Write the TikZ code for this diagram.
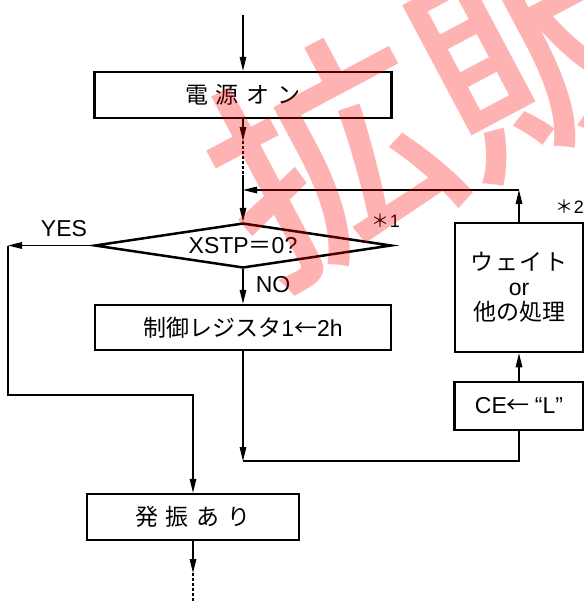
\documentclass[tikz,border=0pt]{standalone}
\usepackage{fontspec}
\setmainfont{Liberation Sans}
\newfontfamily\jp{Noto Sans CJK JP}
\IfFontExistsTF{Noto Sans CJK JP Medium}
  {\newfontfamily\wmfont{Noto Sans CJK JP Medium}}
  {\newfontfamily\wmfont{Noto Sans CJK JP}}
\usetikzlibrary{arrows.meta,shapes.geometric}
\newcommand\J[1]{{\jp #1}}
\tikzset{
  conn/.style={line width=1.3pt},
  arr/.style={conn,-{Triangle[length=14pt,width=6.5pt]}},
  dotline/.style={line width=1.3pt,dash pattern=on 2.5pt off 2.5pt},
  procbox/.style={draw,line width=2.5pt,rectangle,inner sep=0pt,align=center,
    font=\fontsize{23}{25}\selectfont},
  lbl/.style={inner sep=0pt,font=\fontsize{23}{25}\selectfont},
  smalllbl/.style={inner sep=0pt,font=\fontsize{18}{20}\selectfont},
}
\begin{document}
\begin{tikzpicture}[x=1pt,y=-1pt]
\useasboundingbox (0,0) rectangle (584,603);
% boxes
\node[procbox,minimum width=297pt,minimum height=46pt] (pwr) at (243,95)
  {\J{電}\hspace{8pt}\J{源}\hspace{8pt}\J{オ}\hspace{8pt}\J{ン}};
\node[draw,line width=2.5pt,diamond,inner sep=0pt,minimum width=297pt,minimum height=45pt] (dia) at (243,245.5) {};
\node[lbl] (diatxt) at (243,246) {XSTP\J{＝}0?};
\node[procbox,minimum width=296pt,minimum height=45pt] (seigyo) at (243,327.5)
  {\J{制御レジスタ}1\J{←}2h};
\node[procbox,minimum width=212pt,minimum height=46pt] (hassh) at (193,517)
  {\J{発}\hspace{8pt}\J{振}\hspace{8pt}\J{あ}\hspace{8pt}\J{り}};
\node[procbox,minimum width=128pt,minimum height=129pt] (wait) at (519,287.5)
  {\J{ウ\hspace{1.5pt}ェ\hspace{1.5pt}イ\hspace{1.5pt}ト}\\or\\\J{他の処理}};
\node[procbox,minimum width=129pt,minimum height=48pt] (ce) at (519,406)
  {CE\J{←}\hspace{5pt}“L”};
% labels
\node[lbl] (yes) at (64,229) {YES};
\node[lbl] (no) at (273,285) {NO};
\node[smalllbl] (n1) at (386,221) {\J{＊}1};
\node[smalllbl] (n2) at (570,207) {\J{＊}2};
% coordinates
\coordinate (top) at (243,15);
\coordinate (d1) at (243,141);
\coordinate (d2) at (243,175);
\coordinate (fb) at (243,190);
\coordinate (wc) at (519,190);
\coordinate (yc) at (8,245.5);
\coordinate (yb) at (193,395);
\coordinate (nc) at (243,461);
\coordinate (h1) at (193,573);
\coordinate (h2) at (193,603);
% connectors
\draw[arr] (top) -- (pwr.north);
\draw[arr] (pwr.south) -- (d1);
\draw[dotline] (d1) -- (d2);
\draw[arr] (d2) -- (dia.north);
\draw[arr] (wait.north) -- (wc);
\draw[arr] (wc) -- (fb);
\draw[arr] (dia.west) -- (yc);
\draw[arr] (yc) |- (yb) -- (hassh.north);
\draw[arr] (dia.south) -- (seigyo.north);
\draw[arr] (seigyo.south) -- (nc);
\draw[conn] (nc) -| (ce.south);
\draw[arr] (ce.north) -- (wait.south);
\draw[arr] (hassh.south) -- (h1);
\draw[dotline] (h1) -- (h2);
% watermark
\node[rotate=28,text=red,text opacity=0.3,inner sep=0pt,
  font=\wmfont\fontsize{232}{232}\selectfont] (wm) at (432,102) {拡販};
\end{tikzpicture}
\end{document}
